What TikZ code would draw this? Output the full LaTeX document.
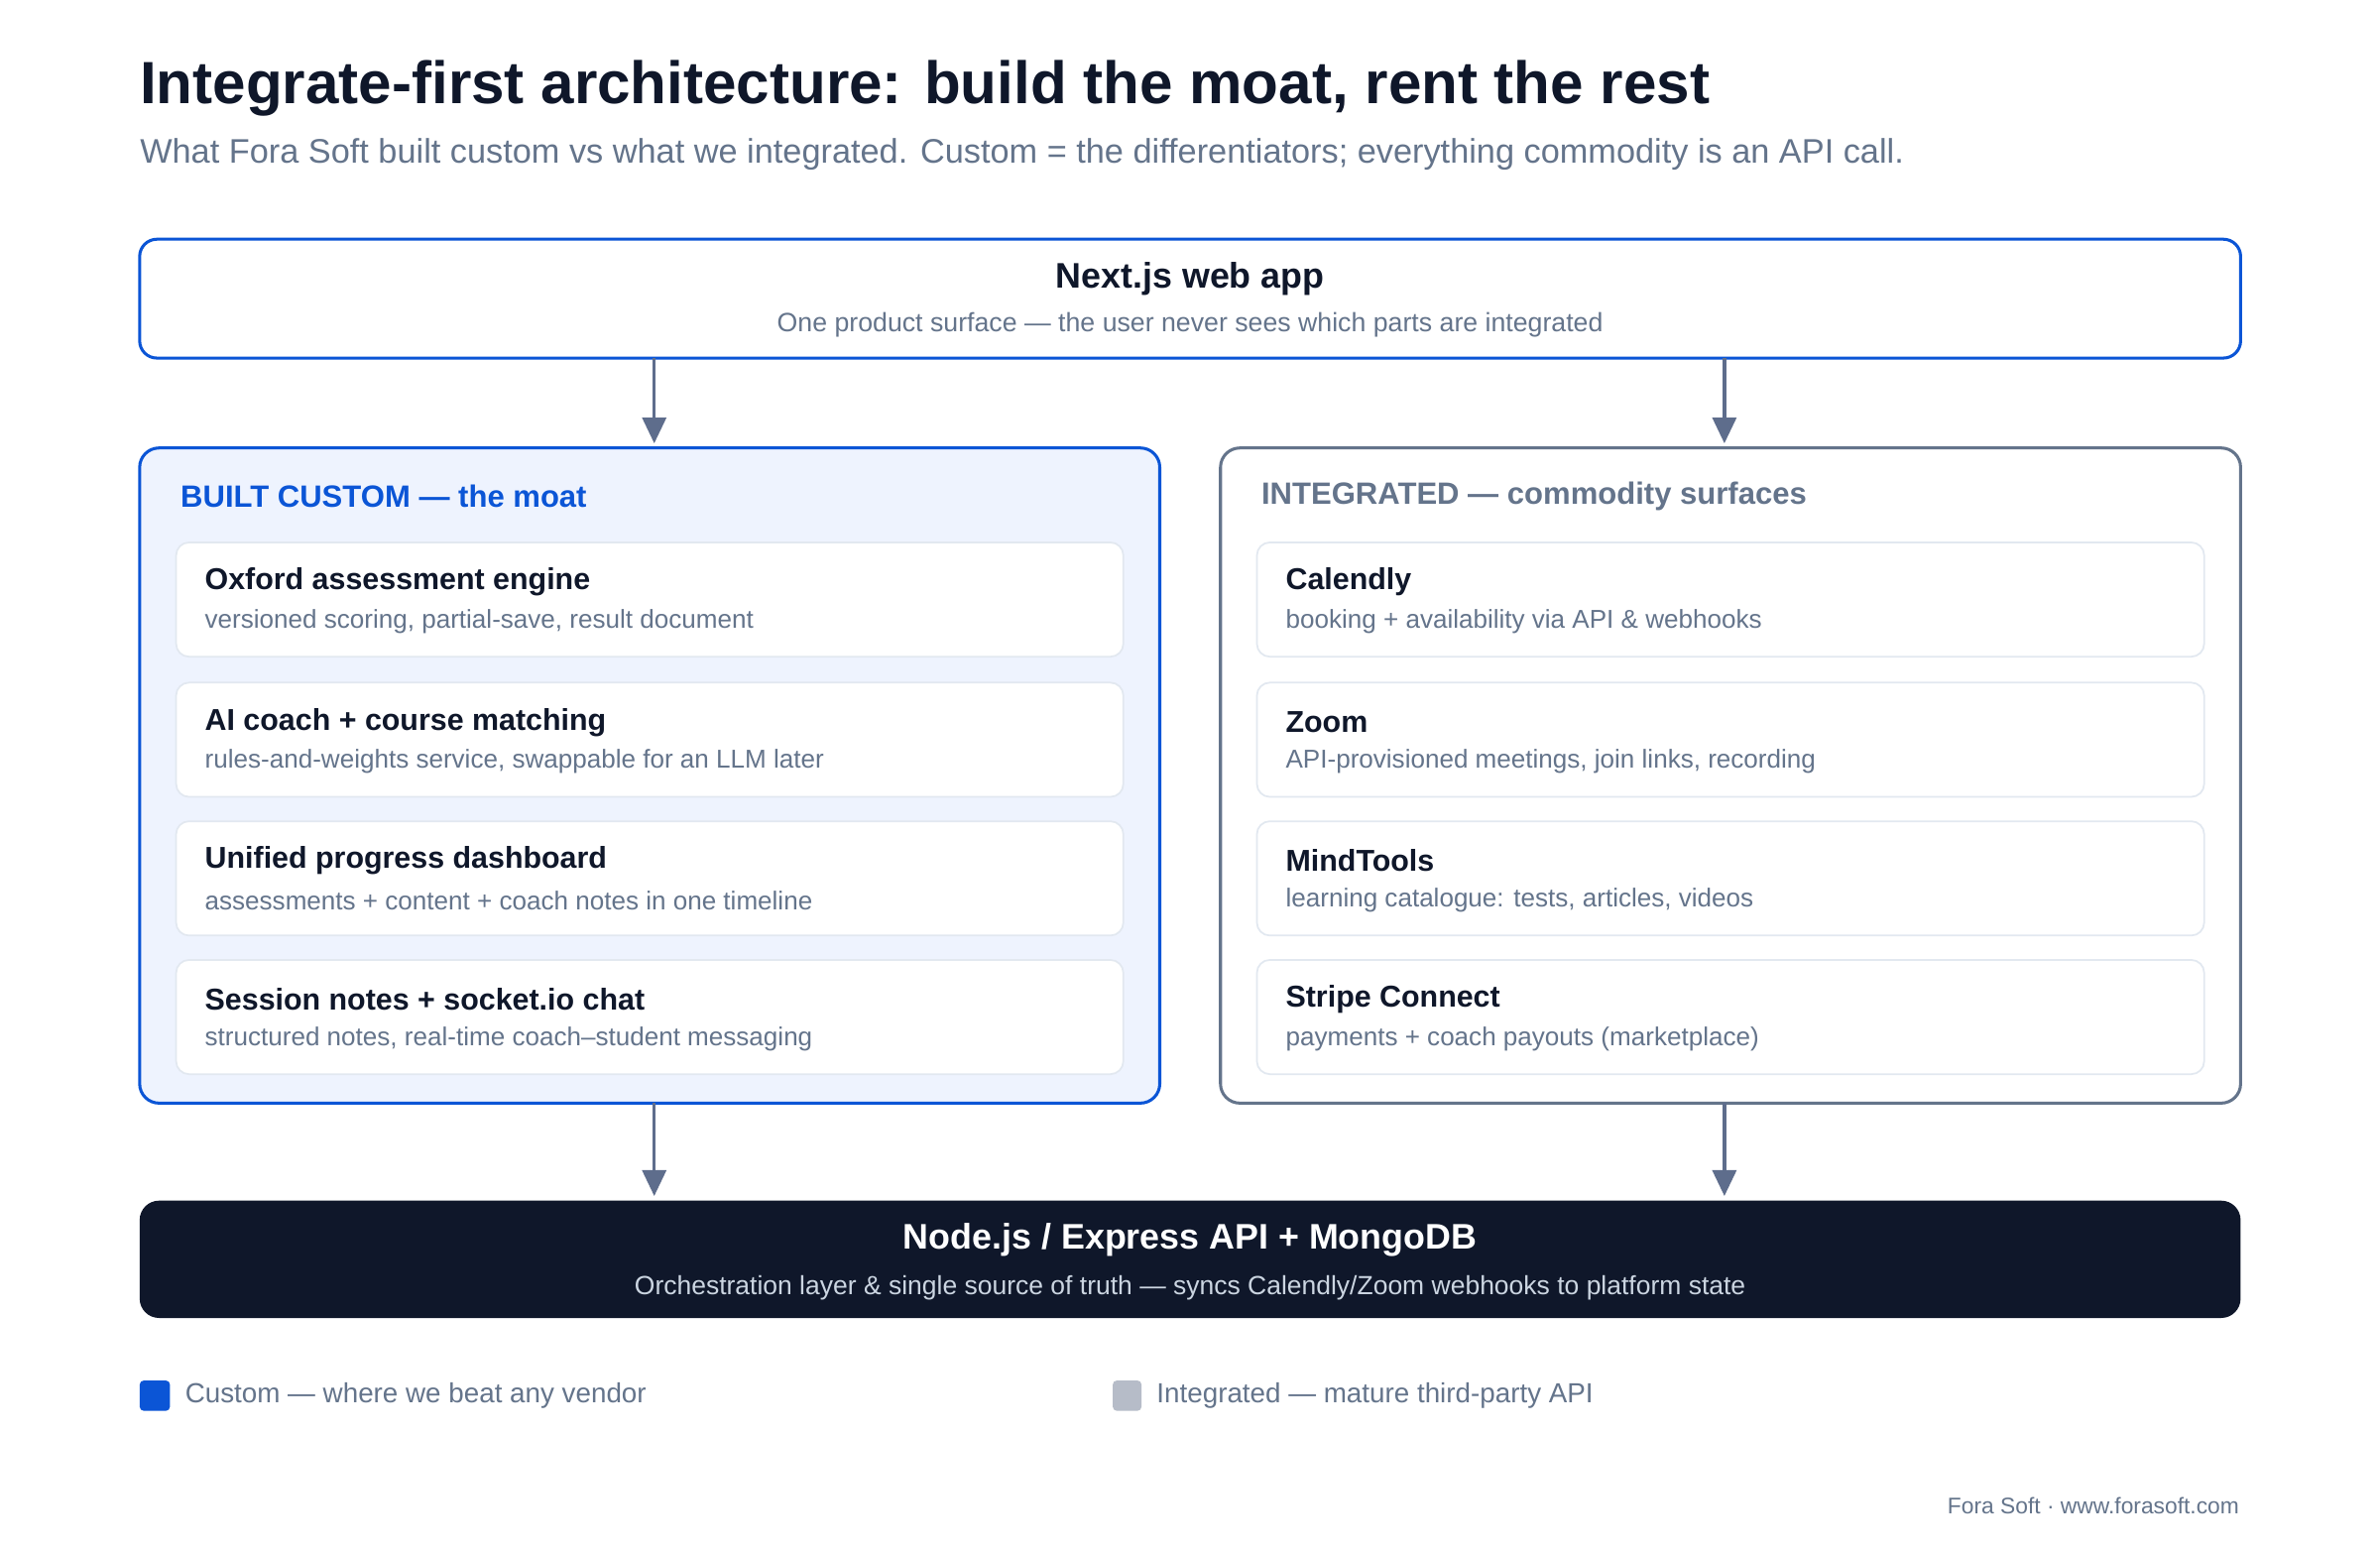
\documentclass[tikz,border=0pt]{standalone}
\usepackage{fontspec}
\setmainfont{Liberation Sans}
\usetikzlibrary{arrows.meta}
\definecolor{ink}{HTML}{0F172A}
\definecolor{slate}{HTML}{64748B}
\definecolor{blue}{HTML}{0B55D6}
\definecolor{paleblue}{HTML}{EEF3FE}
\definecolor{cardline}{HTML}{E2E8F0}
\definecolor{arr}{HTML}{5E6D8C}
\definecolor{lgray}{HTML}{B6BCC8}
\definecolor{subw}{HTML}{CBD5E1}
\begin{document}
\begin{tikzpicture}[x=0.0249cm,y=-0.025cm,
  card/.style={draw=cardline,fill=white,rounded corners=6pt,line width=0.8pt},
  ctitle/.style={anchor=west,text=ink,font=\fontsize{14}{15}\selectfont\bfseries},
  csub/.style={anchor=west,text=slate,font=\fontsize{12}{13}\selectfont},
  arrow/.style={draw=arr,line width=1.6pt,-{Triangle[width=11pt,length=12pt]}}]
\useasboundingbox (0,0) rectangle (1560,1014);
\fill[white] (0,0) rectangle (1560,1014);
\begin{scope}[scale=0.995]
\node[anchor=base west,inner sep=0,text=ink,font=\fontsize{27.7}{30}\selectfont\bfseries] (title) at (92,68) {Integrate-first architecture: build the moat, rent the rest};
\node[anchor=base west,inner sep=0,text=slate,font=\fontsize{15.8}{16}\selectfont] (sub) at (92,107) {What Fora Soft built custom vs what we integrated. Custom = the differentiators; everything commodity is an API call.};
% top box
\draw[blue,line width=1.4pt,rounded corners=8pt,fill=white] (92,157) rectangle (1476,235);
\node[text=ink,font=\fontsize{16.5}{17}\selectfont\bfseries] (toptitle) at (784,183) {Next.js web app};
\node[text=slate,font=\fontsize{12.3}{13}\selectfont] (topsub) at (784,213) {One product surface — the user never sees which parts are integrated};
% panels
\draw[blue,line width=1.4pt,rounded corners=9pt,fill=paleblue] (92,294) rectangle (764,724);
\draw[slate,line width=1.4pt,rounded corners=9pt,fill=white] (804,294) rectangle (1476,724);
\node[anchor=west,text=blue,font=\fontsize{14.3}{15}\selectfont\bfseries] (lhead) at (114,326) {BUILT CUSTOM — the moat};
\node[anchor=west,text=slate,font=\fontsize{14.3}{15}\selectfont\bfseries] (rhead) at (826,326) {INTEGRATED — commodity surfaces};
\foreach \x/\n/\t/\s [count=\i] in {
 116/a/Oxford assessment engine/{versioned scoring, partial-save, result document},
 116/b/AI coach + course matching/{rules-and-weights service, swappable for an LLM later},
 116/c/Unified progress dashboard/{assessments + content + coach notes in one timeline},
 116/d/Session notes + socket.io chat/{structured notes, real-time coach–student messaging},
 828/e/Calendly/{booking + availability via API \& webhooks},
 828/f/Zoom/{API-provisioned meetings, join links, recording},
 828/g/MindTools/{learning catalogue: tests, articles, videos},
 828/h/Stripe Connect/{payments + coach payouts (marketplace)}}{
  \pgfmathsetmacro{\yy}{{356,448,539,630,356,448,539,630}[\i-1]}
  \draw[card] (\x,\yy) rectangle ++(624,75);
  \node[ctitle] (\n t) at (\x+14,\yy+26) {\t};
  \node[csub] (\n s) at (\x+14,\yy+52) {\s};
}
% bottom
\fill[ink,rounded corners=9pt] (92,788) rectangle (1476,865);
\node[text=white,font=\fontsize{16.5}{17}\selectfont\bfseries] (bt) at (784,814) {Node.js / Express API + MongoDB};
\node[text=subw,font=\fontsize{12.2}{13}\selectfont] (bs) at (784,845) {Orchestration layer \& single source of truth — syncs Calendly/Zoom webhooks to platform state};
% arrows
\coordinate (a1) at (431,235); \coordinate (a2) at (431,291);
\coordinate (b1) at (1136,235); \coordinate (b2) at (1136,291);
\coordinate (c1) at (431,724); \coordinate (c2) at (431,785);
\coordinate (d1) at (1136,724); \coordinate (d2) at (1136,785);
\draw[arrow] (a1) -- (a2);
\draw[arrow] (b1) -- (b2);
\draw[arrow] (c1) -- (c2);
\draw[arrow] (d1) -- (d2);
% legend
\fill[blue,rounded corners=2pt] (92,906) rectangle (112,926);
\node[anchor=west,text=slate,font=\fontsize{12.8}{13}\selectfont] (l1) at (117,916) {Custom — where we beat any vendor};
\fill[lgray,rounded corners=2pt] (733,906) rectangle (752,926);
\node[anchor=west,text=slate,font=\fontsize{12.8}{13}\selectfont] (l2) at (757,916) {Integrated — mature third-party API};
\node[anchor=east,text=slate,font=\fontsize{10.5}{11}\selectfont] (foot) at (1480,988) {Fora Soft · www.forasoft.com};
\end{scope}
\end{tikzpicture}
\end{document}
